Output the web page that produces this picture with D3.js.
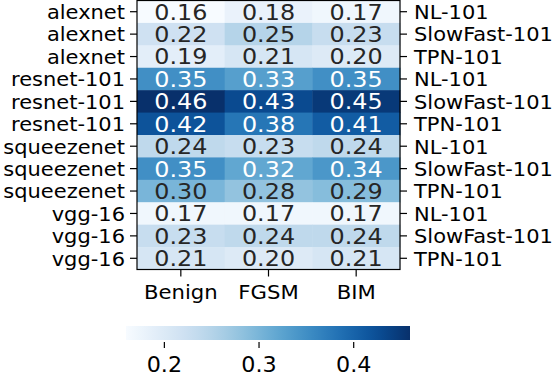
<!DOCTYPE html>
<html>
<head>
<meta charset="utf-8">
<script src="https://cdn.jsdelivr.net/npm/d3@7"></script>
<style>
  body { margin: 0; background: #fff; }
  text { font-family: "DejaVu Sans", sans-serif; }
</style>
</head>
<body>
<div id="viz"></div>
<script>
// data
const models = ['alexnet', 'alexnet', 'alexnet', 'resnet-101', 'resnet-101', 'resnet-101',
  'squeezenet', 'squeezenet', 'squeezenet', 'vgg-16', 'vgg-16', 'vgg-16'];
const backbones = ['NL-101', 'SlowFast-101', 'TPN-101', 'NL-101', 'SlowFast-101', 'TPN-101',
  'NL-101', 'SlowFast-101', 'TPN-101', 'NL-101', 'SlowFast-101', 'TPN-101'];
const attacks = ['Benign', 'FGSM', 'BIM'];
const benign = [0.16, 0.22, 0.19, 0.35, 0.46, 0.42, 0.24, 0.35, 0.30, 0.17, 0.23, 0.21];
const fgsm   = [0.18, 0.25, 0.21, 0.33, 0.43, 0.38, 0.23, 0.32, 0.28, 0.17, 0.24, 0.20];
const bim    = [0.17, 0.23, 0.20, 0.35, 0.45, 0.41, 0.24, 0.34, 0.29, 0.17, 0.24, 0.21];
const cbTicks = [0.2, 0.3, 0.4];

const width = 556, height = 376;
const box = { left: 137, right: 400, top: 0.5, bottom: 269.5 }; // heatmap frame
const S = 1.06; // lettering in the reference is a touch wider than tall

const svg = d3.select('#viz').append('svg')
  .attr('width', width).attr('height', height);

const rowIdx = d3.range(models.length);
const x = d3.scaleBand().domain(attacks).range([box.left, box.right]);
const y = d3.scaleBand().domain(rowIdx).range([box.top, box.bottom]);
const color = d3.scaleSequential(d3.interpolateBlues).domain([0.16, 0.46]);

const series = [benign, fgsm, bim];
const cells = [];
rowIdx.forEach(r => attacks.forEach((a, c) => cells.push({ r, a, v: series[c][r] })));

// dark text on light cells, white on dark (seaborn style)
function lum(c) {
  const rgb = d3.rgb(c);
  const f = v => { v /= 255; return v <= 0.03928 ? v / 12.92 : Math.pow((v + 0.055) / 1.055, 2.4); };
  return 0.2126 * f(rgb.r) + 0.7152 * f(rgb.g) + 0.0722 * f(rgb.b);
}

svg.selectAll('rect.cell')
  .data(cells)
  .enter().append('rect')
    .attr('class', 'cell')
    .attr('x', d => x(d.a))
    .attr('y', d => y(d.r))
    .attr('width', x.bandwidth() + 0.5)
    .attr('height', y.bandwidth() + 0.5)
    .attr('fill', d => color(d.v));

svg.selectAll('text.val')
  .data(cells)
  .enter().append('text')
    .attr('class', 'val')
    .attr('transform', d => `translate(${x(d.a) + x.bandwidth() / 2},${y(d.r) + y.bandwidth() / 2}) scale(1.12,1)`)
    .attr('dy', '0.37em')
    .attr('text-anchor', 'middle')
    .attr('font-size', 21.3)
    .attr('fill', d => lum(color(d.v)) > 0.408 ? '#262626' : '#ffffff')
    .text(d => d.v.toFixed(2));

// frame
svg.append('rect')
  .attr('x', box.left).attr('y', box.top)
  .attr('width', box.right - box.left).attr('height', box.bottom - box.top)
  .attr('fill', 'none').attr('stroke', '#000').attr('stroke-width', 1.2);

// axes
const fmtLeft = i => models[i], fmtRight = i => backbones[i];
const left = svg.append('g')
  .attr('transform', `translate(${box.left},0)`)
  .call(d3.axisLeft(y).tickFormat(fmtLeft).tickSize(7));
const right = svg.append('g')
  .attr('transform', `translate(${box.right},0)`)
  .call(d3.axisRight(y).tickFormat(fmtRight).tickSize(7));
const bottom = svg.append('g')
  .attr('transform', `translate(0,${box.bottom})`)
  .call(d3.axisBottom(x).tickSize(7).tickPadding(8));

left.selectAll('.tick text').attr('x', -12 / S);
right.selectAll('.tick text').attr('x', 14 / S);
[left, right].forEach(g => {
  g.selectAll('.tick text').attr('font-size', 19.8).attr('dy', '0.37em');
});
bottom.selectAll('.tick text').attr('font-size', 20);

[left, right, bottom].forEach(g => {
  g.select('.domain').remove();
  g.selectAll('.tick line').attr('stroke', '#000').attr('stroke-width', 1.2);
  g.selectAll('.tick text')
    .attr('transform', `scale(${S},1)`)
    .attr('font-family', '"DejaVu Sans", sans-serif')
    .attr('fill', '#000');
});

// colorbar
const cb = { left: 126, right: 410, top: 326, bottom: 340 };
const cbX = d3.scaleLinear().domain(color.domain()).range([cb.left, cb.right]);
const grad = svg.append('defs').append('linearGradient').attr('id', 'cbgrad');
d3.range(0, 1.0001, 0.05).forEach(t => {
  grad.append('stop')
    .attr('offset', `${t * 100}%`)
    .attr('stop-color', color(0.16 + t * 0.30));
});
svg.append('rect')
  .attr('x', cb.left).attr('y', cb.top)
  .attr('width', cb.right - cb.left).attr('height', cb.bottom - cb.top)
  .attr('fill', 'url(#cbgrad)');

const cbAxis = svg.append('g')
  .attr('transform', `translate(0,${cb.bottom + 2})`)
  .call(d3.axisBottom(cbX).tickValues(cbTicks).tickFormat(d3.format('.1f')).tickSize(6).tickPadding(9));
cbAxis.select('.domain').remove();
cbAxis.selectAll('.tick line').attr('stroke', '#000').attr('stroke-width', 1.2);
cbAxis.selectAll('.tick text')
  .attr('transform', `scale(${S},1)`)
  .attr('font-family', '"DejaVu Sans", sans-serif')
  .attr('font-size', 21)
  .attr('fill', '#000');
</script>
</body>
</html>
